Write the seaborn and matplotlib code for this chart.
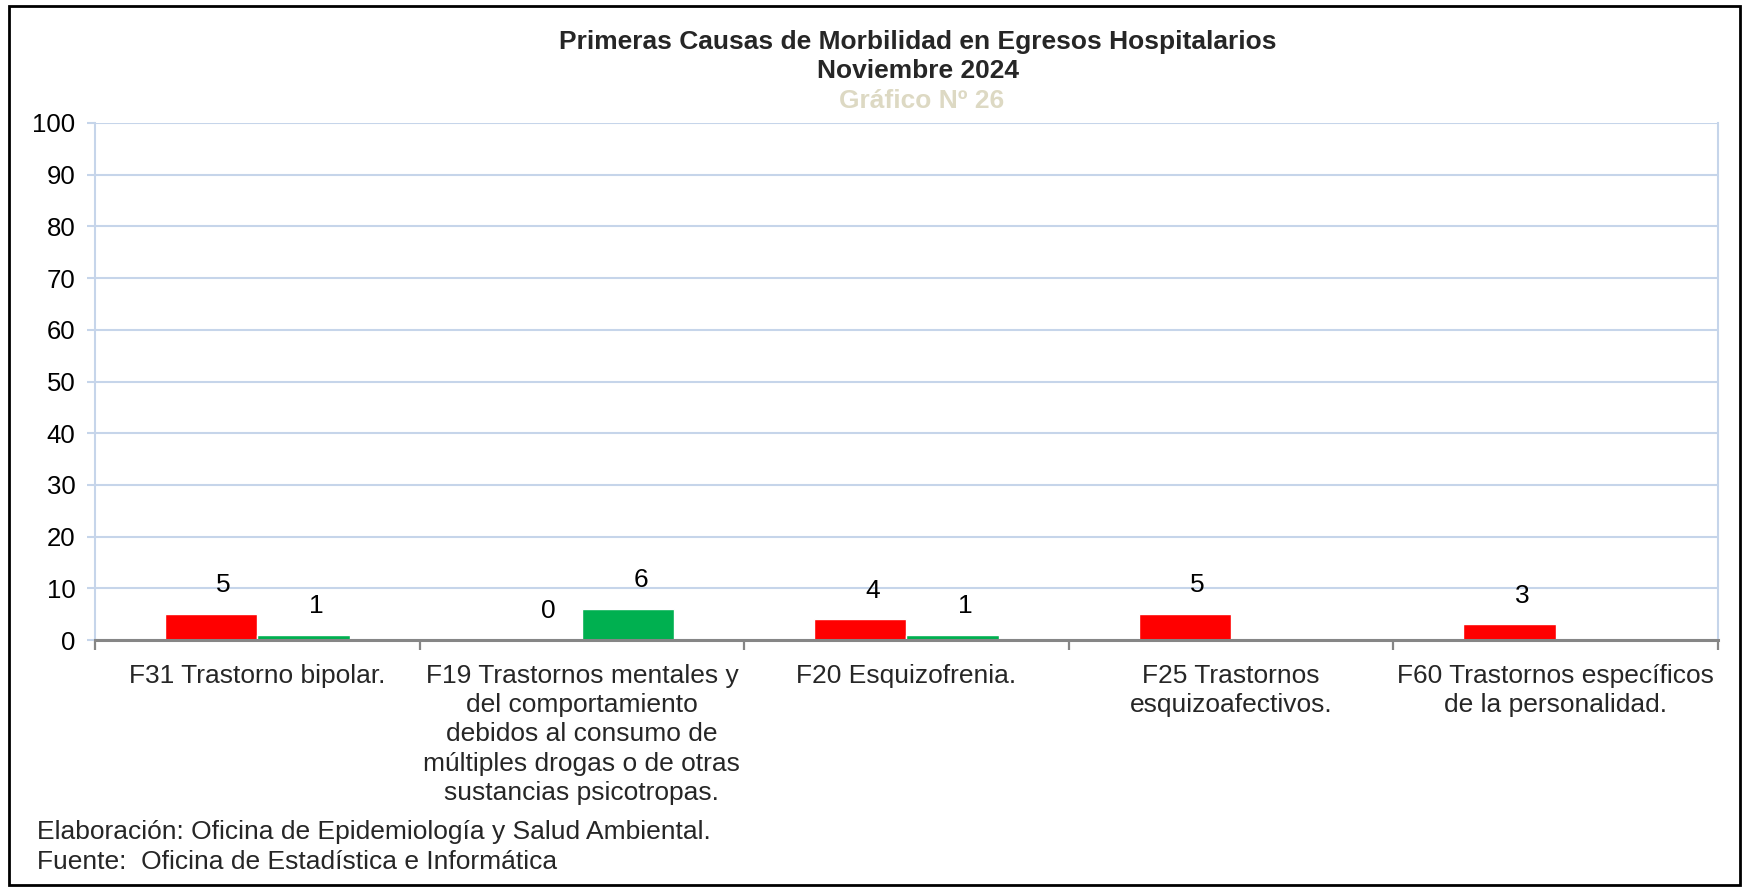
import numpy as np
import pandas as pd
import seaborn as sns
import matplotlib
matplotlib.use("Agg")
import matplotlib.pyplot as plt
from matplotlib.patches import Rectangle

categories = [
    "F31 Trastorno bipolar.",
    "F19 Trastornos mentales y\ndel comportamiento\ndebidos al consumo de\nmúltiples drogas o de otras\nsustancias psicotropas.",
    "F20 Esquizofrenia.",
    "F25 Trastornos\nesquizoafectivos.",
    "F60 Trastornos específicos\nde la personalidad.",
]
series_names = ["Serie 1", "Serie 2"]
serie1 = [5, 0, 4, 5, 3]
serie2 = [1, 6, 1, np.nan, np.nan]
y_ticks = [0, 10, 20, 30, 40, 50, 60, 70, 80, 90, 100]

df = pd.DataFrame({
    "causa": categories * 2,
    "serie": [series_names[0]] * len(categories) + [series_names[1]] * len(categories),
    "valor": serie1 + serie2,
})

sns.set_theme(style="white")
plt.rcParams["font.family"] = ["Liberation Sans", "DejaVu Sans"]

FS = 19

fig = plt.figure(figsize=(17.49, 8.90), dpi=100)
ax = fig.add_axes([95 / 1749, 1 - 640 / 890, (1718 - 95) / 1749, (640 - 123) / 890])

sns.barplot(data=df, x="causa", y="valor", hue="serie", order=categories,
            hue_order=series_names, palette=["#FF0000", "#00B050"],
            width=0.57, legend=False, ax=ax, errorbar=None, saturation=1)

ax.set_ylim(0, 100)
ax.set_xlim(-0.5, len(categories) - 0.5)
ax.set_yticks(y_ticks)
ax.set_xlabel("")
ax.set_ylabel("")

grid_c = "#C6D5EA"
ax.yaxis.grid(True, color=grid_c, linewidth=1.5)
ax.xaxis.grid(False)
ax.set_axisbelow(True)
for s in ["left", "right"]:
    ax.spines[s].set_color(grid_c)
    ax.spines[s].set_linewidth(1.5)
ax.spines["top"].set_visible(False)
ax.spines["bottom"].set_color("#868686")
ax.spines["bottom"].set_linewidth(2.2)

ax.tick_params(axis="y", length=6, color=grid_c, width=1.5, pad=8,
               labelsize=18.5, labelcolor="black", left=True)
ax.set_xticks(np.arange(len(categories)))
ax.set_xticklabels(categories, fontsize=FS, linespacing=1.28, va="top")
ax.tick_params(axis="x", which="major", length=0, pad=17)
ax.set_xticks(np.arange(-0.5, len(categories), 1.0), minor=True)
ax.tick_params(axis="x", which="minor", length=7, color="#868686", width=1.6,
               bottom=True, direction="out")

for p in ax.patches:
    h = p.get_height()
    if h is None or np.isnan(h):
        continue
    ax.annotate(f"{int(round(h))}", (p.get_x() + p.get_width() / 2, h),
                xytext=(9, 12), textcoords="offset points",
                ha="center", va="bottom", fontsize=FS, color="black")

fig.text(0.525, 1 - 42 / 890, "Primeras Causas de Morbilidad en Egresos Hospitalarios",
         ha="center", va="center", fontsize=FS, fontweight="bold")
fig.text(0.525, 1 - 71 / 890, "Noviembre 2024",
         ha="center", va="center", fontsize=FS, fontweight="bold")
fig.text(0.527, 1 - 101 / 890, "Gráfico Nº 26",
         ha="center", va="center", fontsize=FS, fontweight="bold", color="#DDD9C3")

fig.text(37 / 1749, 1 - 832 / 890, "Elaboración: Oficina de Epidemiología y Salud Ambiental.",
         ha="left", va="center", fontsize=FS)
fig.text(37 / 1749, 1 - 862 / 890, "Fuente:  Oficina de Estadística e Informática",
         ha="left", va="center", fontsize=FS)

fig.patches.append(Rectangle((9 / 1749, 1 - 885 / 890), (1740 - 9) / 1749, (885 - 6) / 890,
                             transform=fig.transFigure, fill=False,
                             edgecolor="black", linewidth=2))

fig.savefig("out.png", dpi=100)
